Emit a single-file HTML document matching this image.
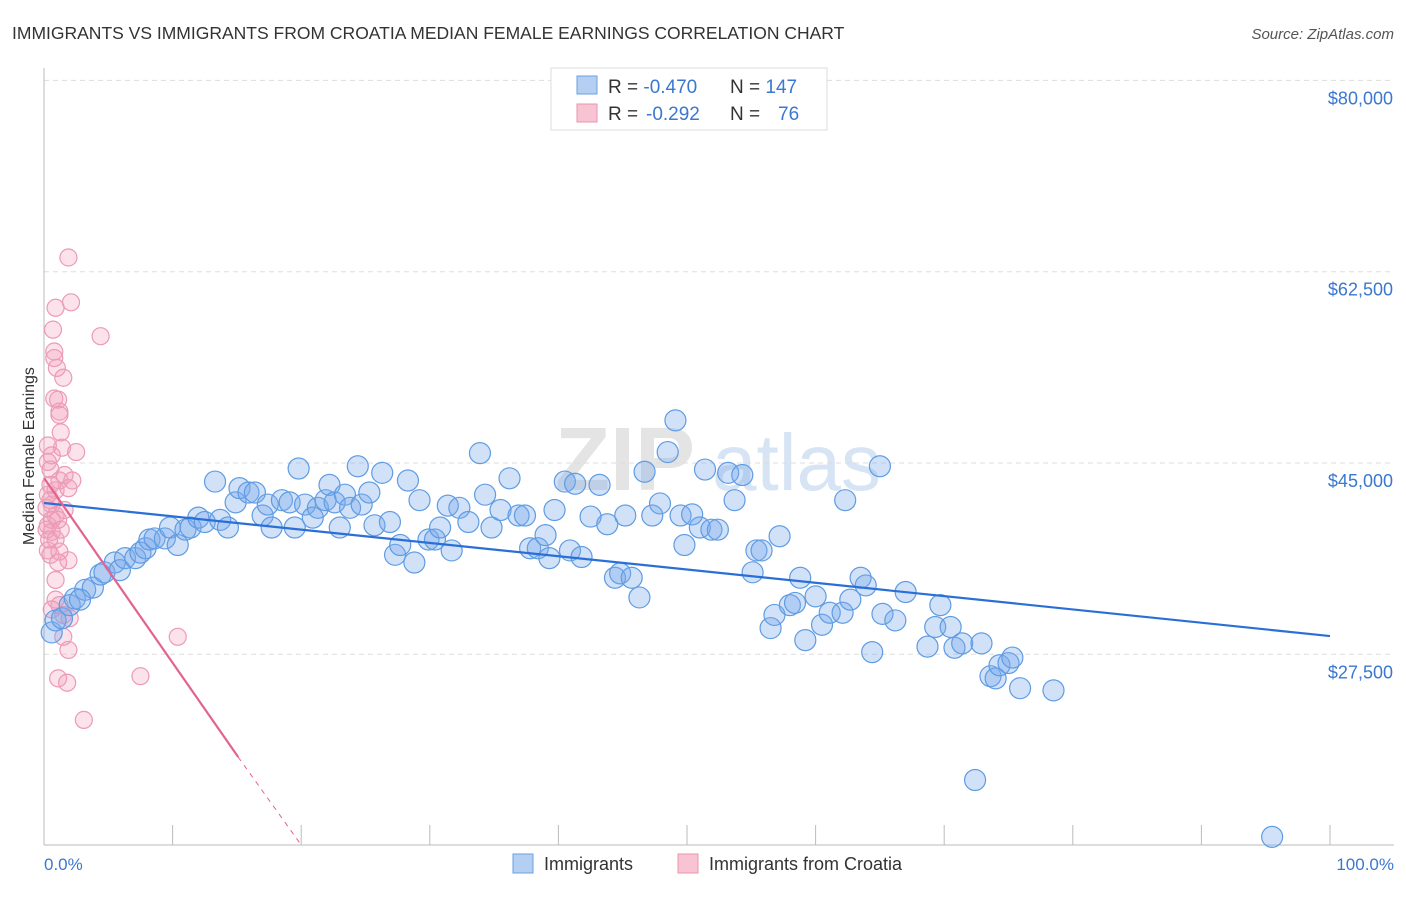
<!DOCTYPE html>
<html><head><meta charset="utf-8"><style>
body{margin:0;background:#fff;font-family:"Liberation Sans",sans-serif;}
svg text{font-family:"Liberation Sans",sans-serif;}
</style></head><body>
<svg id="chart" width="1406" height="892" viewBox="0 0 1406 892" xmlns="http://www.w3.org/2000/svg">
<text x="12" y="39" font-size="17.5" fill="#333">IMMIGRANTS VS IMMIGRANTS FROM CROATIA MEDIAN FEMALE EARNINGS CORRELATION CHART</text>
<text x="1394" y="39" font-size="15" fill="#555" font-style="italic" text-anchor="end">Source: ZipAtlas.com</text>
<g><text x="555" y="490" font-size="90" fill="#e4e4e4" font-family="Liberation Serif" font-weight="bold">ZIP</text><text x="712" y="490" font-size="80" fill="#d6e4f4">atlas</text></g>
<g id="grid"></g>
<line x1="44" y1="845" x2="1394" y2="845" stroke="#bbb"/>
<line x1="44" y1="68" x2="44" y2="845" stroke="#bbb"/>
<g id="xticks"></g>
<g id="yticks"></g>
<text transform="translate(34,456) rotate(-90)" font-size="16" fill="#333" text-anchor="middle">Median Female Earnings</text>
<text x="44" y="870" font-size="17" fill="#3a78d0">0.0%</text>
<text x="1394" y="870" font-size="17" fill="#3a78d0" text-anchor="end">100.0%</text>
<g id="pink"></g>
<g id="blue"></g>
<g id="lines"></g>
<g>
<rect x="551" y="68" width="276" height="62" fill="#fff" stroke="#ddd"/>
<rect x="577" y="76" width="20" height="18" fill="#b5cff3" stroke="#6a9fe0"/>
<rect x="577" y="104" width="20" height="18" fill="#f8c4d4" stroke="#eb94b0"/>
<text x="608" y="93" font-size="19" fill="#333">R = <tspan fill="#3a78d0">-0.470</tspan><tspan x="730">N = </tspan><tspan fill="#3a78d0">147</tspan></text>
<text x="608" y="120" font-size="19" fill="#333">R = <tspan fill="#3a78d0" x="646">-0.292</tspan><tspan x="730">N = </tspan><tspan fill="#3a78d0" x="778">76</tspan></text>
</g>
<g>
<g><rect x="513" y="854" width="20" height="19" fill="#b5cff3" stroke="#6a9fe0"/><text x="544" y="870" font-size="18" fill="#333">Immigrants</text></g>
<g><rect x="678" y="854" width="20" height="19" fill="#f8c4d4" stroke="#eb94b0"/><text x="709" y="870" font-size="18" fill="#333">Immigrants from Croatia</text></g>
</g>
</svg>
<script>
const yTickValues=[80000,62500,45000,27500];
const yTickLabels=["$80,000","$62,500","$45,000","$27,500"];
const blueX=[0.6,0.9,1.4,2.0,2.4,3.2,3.8,2.8,4.4,4.7,5.5,5.9,6.3,7.1,7.5,7.9,8.2,8.6,9.4,9.8,10.4,11.0,11.4,12.0,12.5,13.3,13.7,14.3,14.9,15.2,15.9,16.4,17.0,17.4,17.7,18.5,19.1,19.5,19.8,20.3,20.9,21.3,21.9,22.2,22.6,23.0,23.4,23.8,24.4,24.7,25.3,25.7,26.3,26.9,27.3,27.7,28.3,28.8,29.2,29.9,30.4,30.8,31.4,31.7,32.3,33.0,33.9,34.3,34.8,35.5,36.2,36.9,37.4,37.8,38.4,39.0,39.3,39.7,40.5,40.9,41.3,41.8,42.5,43.2,43.8,44.4,44.8,45.2,45.7,46.3,46.7,47.3,47.9,48.5,49.1,49.5,49.8,50.4,51.0,51.4,51.9,52.4,53.2,53.7,54.3,55.1,55.4,55.8,56.5,56.8,57.2,58.0,58.4,58.8,59.2,60.0,60.5,61.1,62.1,62.7,63.5,63.9,64.4,65.0,65.2,66.2,67.0,68.7,69.3,69.7,70.5,70.8,71.4,72.4,72.9,73.6,74.0,74.3,75.0,75.3,75.9,78.5,95.5,62.3];
const blueY=[29.5,30.6,30.8,32.0,32.6,33.4,33.6,32.5,34.8,35.0,35.9,35.2,36.3,36.3,36.8,37.2,38.0,38.1,38.1,39.1,37.5,38.9,39.1,40.0,39.6,43.3,39.8,39.1,41.4,42.7,42.3,42.3,40.2,41.2,39.1,41.6,41.4,39.1,44.5,41.2,40.0,40.9,41.6,43.0,41.4,39.1,42.1,40.9,44.7,41.2,42.3,39.3,44.1,39.6,36.6,37.5,43.4,35.9,41.6,38.0,38.0,39.1,41.1,37.0,40.9,39.6,45.9,42.1,39.1,40.7,43.6,40.2,40.2,37.2,37.2,38.4,36.3,40.7,43.3,37.0,43.1,36.4,40.1,43.0,39.4,34.5,34.9,40.2,34.5,32.7,44.2,40.2,41.3,46.0,48.9,40.2,37.5,40.3,39.1,44.4,38.9,38.9,44.1,41.6,43.9,35.0,37.0,37.0,29.9,31.1,38.3,32.0,32.2,34.5,28.8,32.8,30.2,31.3,31.3,32.5,34.5,33.8,27.7,44.7,31.2,30.6,33.2,28.2,30.0,32.0,30.0,28.1,28.5,16.0,28.5,25.5,25.3,26.5,26.7,27.2,24.4,24.2,10.8,41.6];
const pinkX=[1.9,0.9,2.1,0.7,0.8,0.8,1.0,1.5,0.8,1.1,1.2,1.2,1.3,1.4,2.5,0.3,0.6,0.3,0.5,1.2,1.6,0.6,0.9,0.3,0.6,0.9,0.3,0.5,1.2,1.9,1.1,0.6,1.6,0.3,0.9,1.9,2.2,0.5,0.9,1.2,1.5,2.0,1.5,1.9,10.4,1.1,1.8,3.1,7.5,4.4,0.6,0.9,0.2,0.4,0.2,0.5,1.1,1.3];
const pinkY=[63.8,59.2,59.7,57.2,55.2,54.6,53.7,52.8,50.9,50.8,49.7,49.4,47.8,46.4,46.0,46.6,45.7,45.1,44.4,43.4,43.9,41.2,40.2,39.3,38.7,38.0,37.0,36.6,36.9,36.1,35.9,39.8,40.7,42.1,42.5,42.7,43.4,43.0,32.5,32.0,31.1,30.8,29.1,27.9,29.1,25.3,24.9,21.5,25.5,56.6,31.6,34.3,38.9,38.0,40.9,41.6,39.8,38.9];
const blueTrend=[[0,41.34],[100,29.17]];
const pinkTrend=[[0,43.63],[15.1,18.1],[20,9.9]];
const NS="http://www.w3.org/2000/svg";
function sx(p){return 44+p*12.86;}
function sy(v){return 463-(v-45000)*191.3/17500;}
function mk(tag,attrs,parent){const e=document.createElementNS(NS,tag);for(const k in attrs)e.setAttribute(k,attrs[k]);parent.appendChild(e);return e;}
const grid=document.getElementById('grid'),yt=document.getElementById('yticks'),xt=document.getElementById('xticks');
yTickValues.forEach((v,i)=>{
 const l=mk('line',{x1:44,x2:1394,y1:sy(v),y2:sy(v),stroke:'#ddd','stroke-dasharray':'5,4'},grid);
 
 
 const t=mk('text',{x:1393,y:sy(v)+24,'font-size':18,fill:'#3a78d0','text-anchor':'end'},yt);
 t.textContent=yTickLabels[i];
 
 
});
for(let i=0;i<=10;i++){
 const l=mk('line',{x1:sx(i*10),x2:sx(i*10),y1:825,y2:845,stroke:'#bbb'},xt);
 
 
}
const pg=document.getElementById('pink');
pinkX.forEach((x,i)=>{
 const c=mk('circle',{cx:sx(x),cy:sy(pinkY[i]*1000),r:8.5,fill:'rgba(243,160,188,0.3)',stroke:'#ec9ab5','stroke-width':1.2},pg);
 
 
});
const bg=document.getElementById('blue');
blueX.forEach((x,i)=>{
 const c=mk('circle',{cx:sx(x),cy:sy(blueY[i]*1000),r:10.5,fill:'rgba(120,170,235,0.35)',stroke:'#5f9ce3','stroke-width':1.2},bg);
 
 
});
const lg=document.getElementById('lines');
const bl=mk('line',{x1:sx(blueTrend[0][0]),y1:sy(blueTrend[0][1]*1000),x2:sx(blueTrend[1][0]),y2:sy(blueTrend[1][1]*1000),stroke:'#2a6fd6','stroke-width':2.2},lg);


const pl=mk('line',{x1:sx(pinkTrend[0][0]),y1:sy(pinkTrend[0][1]*1000),x2:sx(pinkTrend[1][0]),y2:sy(pinkTrend[1][1]*1000),stroke:'#e2648e','stroke-width':2.2},lg);


const pd=mk('line',{x1:sx(pinkTrend[1][0]),y1:sy(pinkTrend[1][1]*1000),x2:sx(pinkTrend[2][0]),y2:Math.min(845,sy(pinkTrend[2][1]*1000)),stroke:'#e2648e','stroke-width':1,'stroke-dasharray':'5,5'},lg);


</script>
</body></html>
